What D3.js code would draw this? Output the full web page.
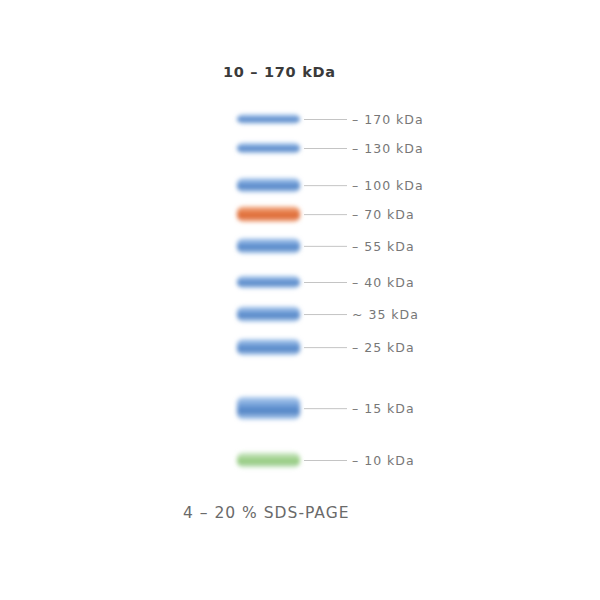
<!DOCTYPE html>
<html><head><meta charset="utf-8">
<script src="https://cdn.jsdelivr.net/npm/d3@7"></script>
<style>html,body{margin:0;padding:0;background:#fff;}</style>
</head><body><div id="chart"></div>
<script>
// Marker proteins (kDa), top to bottom
const sizes = [170, 130, 100, 70, 55, 40, 35, 25, 15, 10];
// Relative migration distance read from the gel (0 = top band, 1 = bottom band)
const mobility = [0, 0.085, 0.194, 0.279, 0.372, 0.478, 0.572, 0.669, 0.848, 1];
// Prestained dye of each band
const dye = ["blue","blue","blue","orange","blue","blue","blue","blue","blue","green"];
// Relative band load (apparent thickness)
const load = [0.5, 0.55, 0.75, 0.8, 0.8, 0.65, 0.8, 0.85, 1.2, 0.8];
// Label prefix per band (35 kDa is approximate)
const prefix = ["–","–","–","–","–","–","~","–","–","–"];
const title = "10 – 170 kDa";
const footer = "4 – 20 % SDS-PAGE";

const W = 600, H = 600;
const svg = d3.select("#chart").append("svg").attr("width", W).attr("height", H);

const y = d3.scaleLinear().domain([0, 1]).range([119, 460]);
const h = d3.scaleLinear().domain([0, 1]).range([0, 19]);
const color = d3.scaleOrdinal().domain(["blue","orange","green"])
  .range([["#b4d0f0","#6d9bd6","#4f82c4"],["#f4b08c","#e57a44","#dc6630"],["#d2ead0","#a6d492","#90c87c"]]);

const defs = svg.append("defs");
defs.append("filter").attr("id","blur").attr("x","-20%").attr("y","-100%").attr("width","140%").attr("height","300%")
  .append("feGaussianBlur").attr("stdDeviation", 2);
["blue","orange","green"].forEach(k => {
  const c = color(k);
  const g = defs.append("linearGradient").attr("id","g-"+k).attr("x1",0).attr("x2",0).attr("y1",0).attr("y2",1);
  g.append("stop").attr("offset","0%").attr("stop-color",c[0]);
  g.append("stop").attr("offset","40%").attr("stop-color",c[1]);
  g.append("stop").attr("offset","65%").attr("stop-color",c[2]);
  g.append("stop").attr("offset","100%").attr("stop-color",c[0]);
});

const data = sizes.map((s,i)=>({s, m: mobility[i], dye: dye[i], load: load[i], pre: prefix[i]}));

const bands = svg.append("g").attr("filter","url(#blur)");
bands.selectAll("rect").data(data).join("rect")
  .attr("x", 237).attr("width", 63)
  .attr("y", d => y(d.m) - h(d.load)/2)
  .attr("height", d => h(d.load))
  .attr("rx", 6).attr("ry", 6)
  .attr("fill", d => `url(#g-${d.dye})`);

svg.append("g").selectAll("line").data(data).join("line")
  .attr("x1", 304).attr("x2", 347)
  .attr("y1", d => y(d.m) + 0.5).attr("y2", d => y(d.m) + 0.5)
  .attr("stroke", "#c4c4c4").attr("stroke-width", 1);

svg.append("g").selectAll("text").data(data).join("text")
  .attr("x", 352).attr("y", d => y(d.m) + 5)
  .attr("font-family", "'DejaVu Sans', sans-serif")
  .attr("font-size", 12.5).attr("letter-spacing", 1).attr("fill", "#777")
  .text(d => `${d.pre} ${d.s} kDa`);

svg.append("text").attr("x", 223).attr("y", 77)
  .attr("font-family", "'DejaVu Sans', sans-serif")
  .attr("font-size", 14.5).attr("font-weight", "bold").attr("letter-spacing", 0.7).attr("fill", "#3a3a3a")
  .text(title);

svg.append("text").attr("x", 183).attr("y", 518)
  .attr("font-family", "'DejaVu Sans', sans-serif")
  .attr("font-size", 15.5).attr("letter-spacing", 1).attr("fill", "#6a6a6a")
  .text(footer);
</script></body></html>
